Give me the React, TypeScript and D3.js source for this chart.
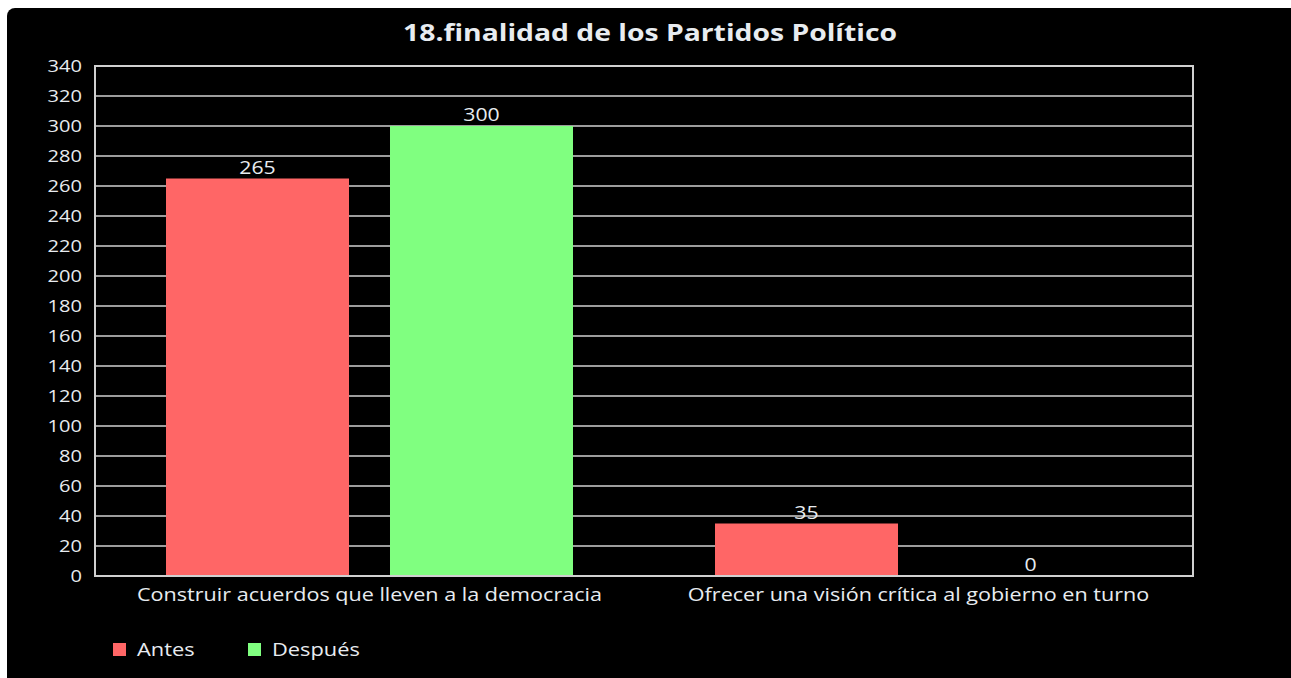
import React, { useRef, useEffect } from 'react';
import * as d3 from 'd3';

const categories = ['Construir acuerdos que lleven a la democracia', 'Ofrecer una visión crítica al gobierno en turno'];
const seriesNames = ['Antes', 'Después'];
const antes = [265, 35];
const despues = [300, 0];
const yTicks = d3.range(0, 341, 20);
const colors = ['#ff6666', '#80ff80'];
const title = '18.finalidad de los Partidos Político';

const W = 1291;
const H = 678;
const SX = 1.18; // the reference text looks horizontally stretched
const FONT = '"Open Sans", sans-serif';
const TXT = '#e8ecf0';

const App = () => {
  const svgRef = useRef<SVGSVGElement>(null);

  useEffect(() => {
    const svg = d3.select(svgRef.current);
    svg.selectAll('*').remove();

    const margin = { top: 66, right: 98, bottom: 102, left: 95 };
    const x0 = d3.scaleBand().domain(categories).range([margin.left, W - margin.right]);
    const x1 = d3.scaleBand().domain(seriesNames).range([0, x0.bandwidth()])
      .paddingInner(0.183).paddingOuter(0.317);
    const y = d3.scaleLinear().domain([0, 340]).range([H - margin.bottom, margin.top]);

    const stretched = (g: any, x: number, yy: number, str: string, size: number, anchor: string, weight = 'normal') =>
      g.append('text')
        .attr('transform', `translate(${x},${yy}) scale(${SX},1)`)
        .attr('text-anchor', anchor)
        .attr('font-family', FONT)
        .attr('font-size', size)
        .attr('font-weight', weight)
        .attr('fill', TXT)
        .text(str);

    svg.append('rect').attr('width', W).attr('height', H).attr('fill', '#fff');
    svg.append('rect').attr('x', 7).attr('y', 8).attr('width', W + 2).attr('height', H + 10)
      .attr('rx', 8).attr('fill', '#000');

    stretched(svg, 650, 41, title, 24, 'middle', 'bold');

    // grid
    svg.append('g').selectAll('line').data(yTicks).enter().append('line')
      .attr('x1', margin.left).attr('x2', W - margin.right)
      .attr('y1', d => y(d)).attr('y2', d => y(d))
      .attr('stroke', '#d0d0d0').attr('stroke-width', 1.5);

    const tickG = svg.append('g');
    yTicks.forEach(t => stretched(tickG, 82, y(t) + 6, String(t), 17, 'end'));

    const data = categories.map((c, i) => ({ c, vals: [antes[i], despues[i]] }));
    const groups = svg.append('g').selectAll('g').data(data).enter().append('g')
      .attr('transform', d => `translate(${x0(d.c)},0)`);

    groups.selectAll('rect').data(d => d.vals.map((v, j) => ({ v, s: seriesNames[j], j }))).enter()
      .append('rect')
      .attr('x', d => x1(d.s)!)
      .attr('y', d => y(d.v))
      .attr('width', x1.bandwidth())
      .attr('height', d => y(0) - y(d.v))
      .attr('fill', d => colors[d.j]);

    groups.each(function (d) {
      const g = d3.select(this);
      d.vals.forEach((v, j) => {
        stretched(g, x1(seriesNames[j])! + x1.bandwidth() / 2, y(v) - 5, String(v), 18, 'middle');
      });
    });

    // frame
    svg.append('rect')
      .attr('x', margin.left).attr('y', margin.top)
      .attr('width', W - margin.right - margin.left).attr('height', H - margin.bottom - margin.top)
      .attr('fill', 'none').attr('stroke', '#d0d0d0').attr('stroke-width', 2);

    const catG = svg.append('g');
    categories.forEach(c => stretched(catG, x0(c)! + x0.bandwidth() / 2, 601, c, 18.3, 'middle'));

    // legend
    const legend = svg.append('g');
    const lx = [113, 248];
    seriesNames.forEach((s, i) => {
      legend.append('rect').attr('x', lx[i]).attr('y', 643).attr('width', 13).attr('height', 13).attr('fill', colors[i]);
      stretched(legend, lx[i] + 24, 656, s, 18.5, 'start');
    });
  }, []);

  return (
    <svg ref={svgRef} width={W} height={H} style={{ position: 'absolute', left: 0, top: 0, display: 'block' }} />
  );
};

export default App;
